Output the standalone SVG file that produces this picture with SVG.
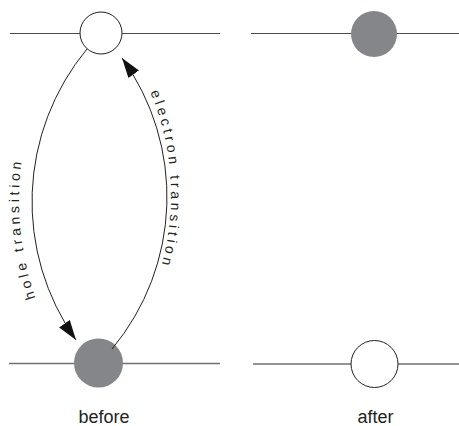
<svg xmlns="http://www.w3.org/2000/svg" width="459" height="426" viewBox="0 0 459 426">
<defs>
<style>
.lvl{stroke:#4a4a4a;stroke-width:1.2;fill:none}
.lvlb{stroke:#6f7072;stroke-width:1.4;fill:none}
.empty{fill:#fff;stroke:#231f20;stroke-width:1}
.full{fill:#858689;stroke:none}
.conn{fill:none;stroke:#231f20;stroke-width:1}
.lab{font-family:"Liberation Sans",Arial,sans-serif;fill:#231f20}
.curv{font-size:14px;letter-spacing:3.6px}
.cap{font-size:18px;text-anchor:middle}
</style>
<marker id="ah" markerUnits="userSpaceOnUse" markerWidth="22" markerHeight="14" refX="20" refY="6.5" orient="auto">
<path d="M0,0 L20,6.5 L0,13 z" fill="#111"/>
</marker>
<path id="holePath" d="M 35.5 298 A 300 300 0 0 1 29.9 120"/>
<path id="elecPath" d="M 150.3 92 A 267 267 0 0 1 153.5 290"/>
</defs>
<g id="before-upper">
<line class="lvl" x1="10" y1="33.5" x2="220" y2="33.5"/>
<circle class="empty" cx="101" cy="33" r="21"/>
</g>
<g id="before-lower">
<line class="lvlb" x1="9" y1="363.5" x2="220" y2="363.5"/>
<circle class="full" cx="98.5" cy="363" r="24.5"/>
</g>
<g id="after-upper">
<line class="lvl" x1="251" y1="33.5" x2="459" y2="33.5"/>
<circle class="full" cx="374" cy="34" r="23"/>
</g>
<g id="after-lower">
<line class="lvlb" x1="253" y1="364" x2="459" y2="364"/>
<circle class="empty" cx="374.5" cy="364" r="23.5"/>
</g>
<g id="connectors">
<path class="conn" d="M 87 49 A 239.5 239.5 0 0 0 76 340" marker-end="url(#ah)"/>
<path class="conn" d="M 112 349 A 237.4 237.4 0 0 0 122 58" marker-end="url(#ah)"/>
</g>
<g id="labels">
<text class="lab curv"><textPath href="#holePath">hole transition</textPath></text>
<text class="lab curv"><textPath href="#elecPath">electron transition</textPath></text>
<text class="lab cap" x="104" y="423">before</text>
<text class="lab cap" x="375.5" y="423">after</text>
</g>
</svg>
